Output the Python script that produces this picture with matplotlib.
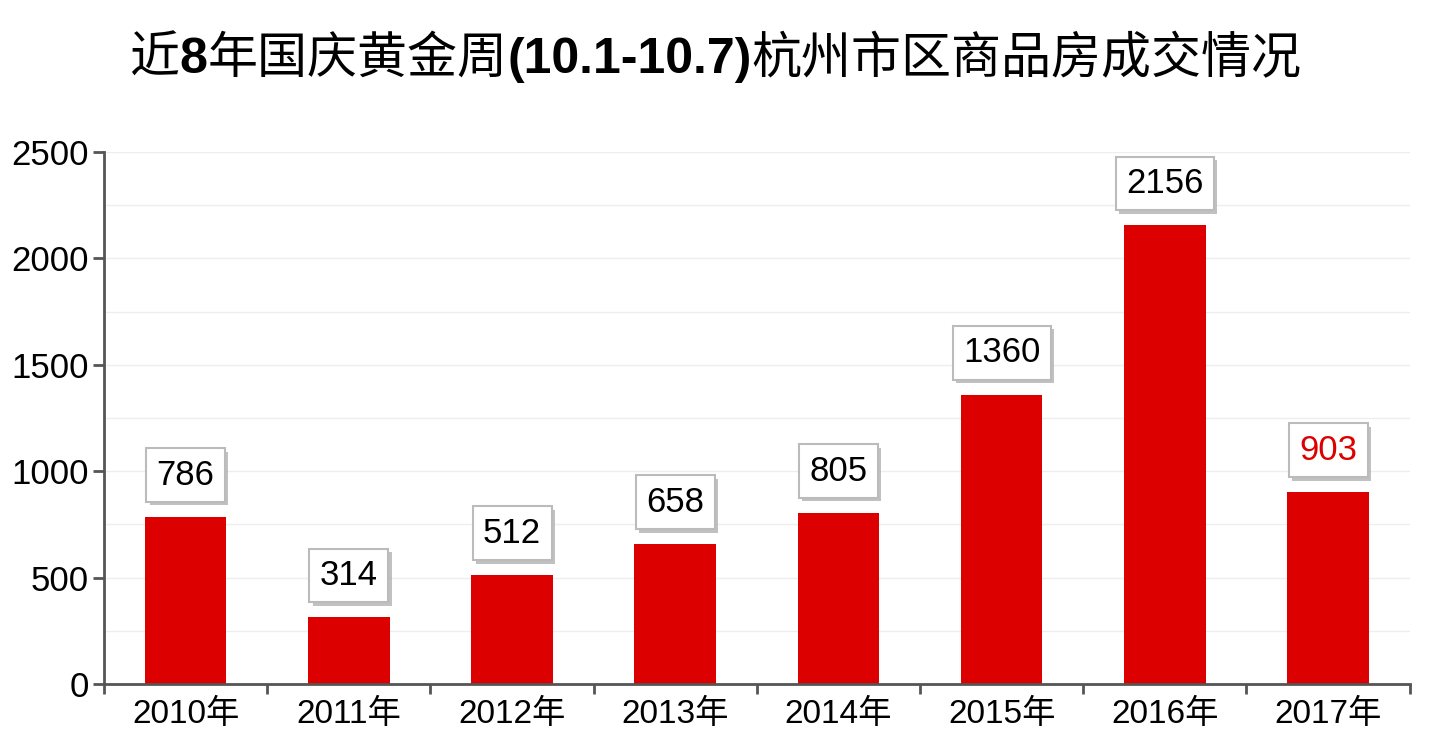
import matplotlib
matplotlib.use("Agg")
import matplotlib.pyplot as plt
import matplotlib.patheffects as pe
from matplotlib.offsetbox import TextArea, HPacker, AnchoredOffsetbox

years = ["2010年", "2011年", "2012年", "2013年", "2014年", "2015年", "2016年", "2017年"]
values = [786, 314, 512, 658, 805, 1360, 2156, 903]
label_colors = ["black"] * 7 + ["#dd0000"]

FAM = ["Liberation Sans", "Noto Sans CJK SC", "DejaVu Sans"]
plt.rcParams['font.family'] = FAM

fig = plt.figure(figsize=(14.37, 7.54), dpi=100)
ax = fig.add_axes([0.0724, 0.0928, 0.9086, 0.7056])

x = list(range(len(years)))
ax.bar(x, values, width=0.5, color="#dd0000", zorder=2)

ax.set_xlim(-0.5, len(years) - 0.5)
ax.set_ylim(0, 2500)
ax.set_yticks([0, 500, 1000, 1500, 2000, 2500])
ax.set_yticks([250, 750, 1250, 1750, 2250], minor=True)
ax.grid(axis='y', which='both', color="#eeeeee", linewidth=1, zorder=0)

ax.set_xticks([i - 0.5 for i in range(len(years) + 1)])
ax.set_xticklabels([])
ax.set_xticks(x, minor=True)
ax.set_xticklabels(years, minor=True)
ax.tick_params(axis='x', which='major', length=7, width=2, color="#555555", direction='out')
ax.tick_params(axis='x', which='minor', length=0, labelsize=24, pad=11)
ax.tick_params(axis='y', which='major', length=8, width=2, color="#555555", labelsize=25, pad=3)
ax.tick_params(axis='y', which='minor', length=0)

for s in ['top', 'right']:
    ax.spines[s].set_visible(False)
for s in ['left', 'bottom']:
    ax.spines[s].set_color("#555555")
    ax.spines[s].set_linewidth(2)

for xi, v, c in zip(x, values, label_colors):
    t = ax.annotate(str(v), (xi, v), xytext=(0, 30), textcoords='offset points',
                    ha='center', va='center', fontsize=25, color=c,
                    bbox=dict(boxstyle='square,pad=0.3', fc='white', ec='#bbbbbb', lw=1.5),
                    zorder=5)
    t.get_bbox_patch().set_path_effects([
        pe.SimplePatchShadow(offset=(2.5, -2.5), shadow_rgbFace='#999999', alpha=0.6),
        pe.Normal()])

# Title with mixed weight
parts = [("近", "normal"), ("8", "bold"), ("年国庆黄金周", "normal"),
         ("(10.1-10.7)", "bold"), ("杭州市区商品房成交情况", "normal")]
areas = []
for txt, w in parts:
    fam = ["Liberation Sans", "Noto Sans CJK SC"] if w == "bold" else ["Noto Sans CJK SC"]
    areas.append(TextArea(txt, textprops=dict(fontsize=36, fontweight=w, family=fam, color='black')))
pack = HPacker(children=areas, align="baseline", pad=0, sep=0)
anch = AnchoredOffsetbox(loc='center', child=pack, frameon=False,
                         bbox_to_anchor=(0.498, 0.922), bbox_transform=fig.transFigure, pad=0, borderpad=0)
fig.add_artist(anch)

fig.savefig("out.png", dpi=100)
